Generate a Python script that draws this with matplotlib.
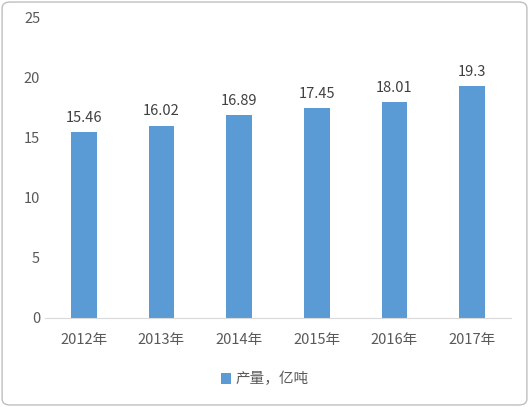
import matplotlib
matplotlib.use("Agg")
import matplotlib.pyplot as plt
from matplotlib.patches import FancyBboxPatch

plt.rcParams['font.family'] = ['Noto Sans CJK SC', 'DejaVu Sans']

years = ["2012年", "2013年", "2014年", "2015年", "2016年", "2017年"]
values = [15.46, 16.02, 16.89, 17.45, 18.01, 19.3]
labels = ["15.46", "16.02", "16.89", "17.45", "18.01", "19.3"]
series_name = "产量，亿吨"

fig = plt.figure(figsize=(5.29, 4.07), dpi=100)
fig.patches.append(FancyBboxPatch((0.004, 0.005), 0.992, 0.99, boxstyle="round,pad=0,rounding_size=0.015",
                                  transform=fig.transFigure, fill=False, edgecolor="#BFBFBF", lw=1))
ax = fig.add_axes([0.085, 0.219, 0.881, 0.737])
x = range(len(years))
bars = ax.bar(x, values, width=0.33, color="#5B9BD5", label=series_name)
for xi, v, t in zip(x, values, labels):
    ax.text(xi, v + 0.6, t, ha="center", va="bottom", fontsize=10.5, color="#404040")
ax.set_ylim(0, 25)
ax.set_xlim(-0.5, 5.5)
ax.set_yticks([0, 5, 10, 15, 20, 25])
ax.set_xticks(list(x))
ax.set_xticklabels(years)
ax.tick_params(length=0, labelsize=10.5, colors="#595959")
ax.tick_params(axis="x", pad=11)
for s in ["top", "right", "left"]:
    ax.spines[s].set_visible(False)
ax.spines["bottom"].set_color("#D9D9D9")
fig.legend(loc="center", bbox_to_anchor=(0.5, 0.068), frameon=False, fontsize=10.5,
           handlelength=0.7, handleheight=0.7, handletextpad=0.3, labelcolor="#595959")
fig.savefig("out.png", dpi=100)
